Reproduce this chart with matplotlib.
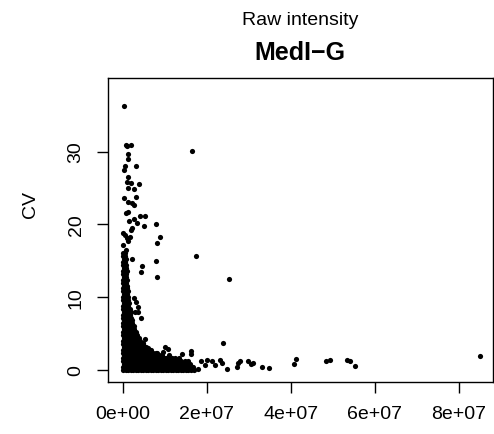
import numpy as np
import matplotlib
matplotlib.use('Agg')
import matplotlib.pyplot as plt

plt.rcParams['font.family'] = ['Liberation Sans', 'DejaVu Sans']

# scattered points (raw intensity in millions, CV)
outlier_int_m = [0.2, 0.7, 1.0, 1.9, 1.3, 1.3, 0.5, 0.2, 3.1, 1.3,
                 0.9, 1.8, 3.9, 1.3, 2.5, 16.4, 0.2, 1.3, 2.1, 2.6,
                 3.2, 0.6, 1.3, 4.1, 5.2, 1.4, 2.5, 3.4, 5.1, 7.8,
                 2.1, 1.9, 0.1, 0.5, 0.9, 1.3, 1.7, 8.8, 8.0, 0.1,
                 0.7, 2.1, 7.9, 4.6, 4.2, 8.0, 17.5, 25.2,
                 2.5, 3.1, 3.6, 2.9, 3.6, 4.4, 5.2, 4.8, 6.0, 10.0,
                 10.8, 8.0, 9.6, 14.0, 16.1, 16.3, 23.9,
                 18.5, 20.1, 21.1, 23.1, 23.5, 19.6, 21.9, 24.8, 17.8,
                 27.2, 27.5, 27.9, 29.8, 30.5, 30.9, 33.1, 34.8,
                 40.7, 41.3, 48.3, 49.3, 53.4, 54.2, 55.3, 85.0]
outlier_cv = [36.3, 30.9, 30.7, 30.9, 29.7, 29.0, 28.0, 27.5, 28.0, 26.5,
              25.8, 25.7, 25.6, 25.0, 24.9, 30.1, 23.6, 23.1, 22.9, 22.6,
              23.8, 21.6, 21.7, 21.2, 21.1, 20.5, 20.7, 20.2, 19.8, 20.1,
              19.5, 19.2, 18.8, 18.5, 18.1, 17.7, 18.2, 18.2, 17.5, 17.2,
              16.5, 15.2, 14.9, 14.3, 13.5, 12.8, 15.6, 12.5,
              9.9, 9.4, 8.6, 7.9, 7.9, 7.2, 4.2, 3.7, 3.0, 3.2,
              2.9, 2.3, 2.5, 2.2, 2.6, 2.2, 3.7,
              1.2, 1.4, 1.2, 1.4, 1.0, 0.7, 0.7, 0.1, 0.2,
              0.35, 0.96, 1.27, 1.19, 0.86, 0.96, 0.37, 0.32,
              0.86, 1.46, 1.19, 1.32, 1.37, 1.28, 0.59, 1.87]

# dense part near the origin: (CV, intensities in millions)
dense_rows = [
    (16.0, [0.1, 0.4]),
    (15.6, [0.0, 0.5]),
    (15.2, [0.2, 0.7]),
    (14.8, [0.1, 0.5]),
    (14.4, [0.0, 0.4, 0.8]),
    (14.0, [0.2, 0.6]),
    (13.6, [0.1, 0.5, 0.9]),
    (13.2, [0.0, 0.4, 0.8]),
    (12.8, [0.2, 0.6]),
    (12.4, [0.1, 0.5, 0.9]),
    (12.0, [0.0, 0.4, 0.8]),
    (11.6, [0.2, 0.6, 1.0]),
    (11.2, [0.1, 0.5, 0.9]),
    (10.8, [0.0, 0.4, 0.8, 1.2]),
    (10.4, [0.2, 0.6, 1.0]),
    (10.0, [0.1, 0.5, 0.9, 1.3]),
    (9.6, [0.0, 0.4, 0.8, 1.2]),
    (9.2, [0.2, 0.6, 1.0, 1.4]),
    (8.8, [0.1, 0.5, 0.9, 1.3]),
    (8.4, [0.0, 0.4, 0.8, 1.2, 1.6]),
    (8.0, [0.2, 0.6, 1.0, 1.4, 1.8]),
    (7.6, [0.1, 0.5, 0.9, 1.3, 1.7]),
    (7.2, [0.0, 0.5, 1.0, 1.5, 2.0]),
    (6.8, [0.2, 0.7, 1.2, 1.7, 2.2]),
    (6.4, [0.1, 0.6, 1.1, 1.6, 2.1]),
    (6.0, [0.0, 0.5, 1.0, 1.5, 2.0, 2.5]),
    (5.6, [0.2, 0.7, 1.2, 1.7, 2.2, 2.7]),
    (5.2, [0.1, 0.6, 1.1, 1.6, 2.1, 2.6, 3.0]),
    (4.8, [0.0, 0.5, 1.0, 1.5, 2.0, 2.5, 3.0, 3.4]),
    (4.4, [0.2, 0.7, 1.2, 1.7, 2.2, 2.7, 3.2, 3.7]),
    (4.0, [0.1, 0.6, 1.1, 1.6, 2.1, 2.6, 3.1, 3.6, 4.1]),
    (3.6, [0.0, 0.6, 1.2, 1.8, 2.4, 3.0, 3.6, 4.2, 4.7]),
    (3.2, [0.2, 0.8, 1.4, 2.0, 2.6, 3.2, 3.8, 4.4, 5.0, 5.5]),
    (2.8, [0.1, 0.7, 1.3, 1.9, 2.5, 3.1, 3.7, 4.3, 4.9, 5.5, 6.1, 6.6]),
    (2.4, [0.0, 0.6, 1.2, 1.8, 2.4, 3.0, 3.6, 4.2, 4.8, 5.4, 6.0, 6.6,
           7.2, 7.8]),
    (2.0, [0.2, 0.8, 1.4, 2.0, 2.6, 3.2, 3.8, 4.4, 5.0, 5.6, 6.2, 6.8,
           7.4, 8.0, 8.6, 9.3, 11.0]),
    (1.6, [0.1, 0.7, 1.3, 1.9, 2.5, 3.1, 3.7, 4.3, 4.9, 5.5, 6.1, 6.7,
           7.3, 7.9, 8.5, 9.1, 9.7, 10.3, 10.9, 11.6, 12.4, 13.3]),
    (1.2, [0.0, 0.6, 1.2, 1.8, 2.4, 3.0, 3.6, 4.2, 4.8, 5.4, 6.0, 6.6,
           7.2, 7.8, 8.4, 9.0, 9.6, 10.2, 10.8, 11.4, 12.0, 12.6, 13.2,
           13.9, 14.7, 15.6]),
    (0.8, [0.2, 0.8, 1.4, 2.0, 2.6, 3.2, 3.8, 4.4, 5.0, 5.6, 6.2, 6.8,
           7.4, 8.0, 8.6, 9.2, 9.8, 10.4, 11.0, 11.6, 12.2, 12.8, 13.4,
           14.0, 14.6, 15.2, 16.0]),
    (0.4, [0.1, 0.7, 1.3, 1.9, 2.5, 3.1, 3.7, 4.3, 4.9, 5.5, 6.1, 6.7,
           7.3, 7.9, 8.5, 9.1, 9.7, 10.3, 10.9, 11.5, 12.1, 12.7, 13.3,
           13.9, 14.5, 15.1, 15.8, 16.6]),
    (0.0, [0.0, 0.6, 1.2, 1.8, 2.4, 3.0, 3.6, 4.2, 4.8, 5.4, 6.0, 6.6,
           7.2, 7.8, 8.4, 9.0, 9.6, 10.2, 10.8, 11.4, 12.0, 12.6, 13.2,
           13.8, 14.4, 15.0, 15.6, 16.3, 17.0]),
]

x_ticks = [0, 2e7, 4e7, 6e7, 8e7]
x_tick_labels = ['0e+00', '2e+07', '4e+07', '6e+07', '8e+07']
y_ticks = [0, 10, 20, 30]
y_tick_labels = ['0', '10', '20', '30']

dense_int = []
dense_cv = []
for cv_val, xs in dense_rows:
    for xv in xs:
        dense_int.append(xv)
        dense_cv.append(cv_val)

intensity = np.array(outlier_int_m + dense_int) * 1e6
cv = np.array(outlier_cv + dense_cv)

fig = plt.figure(figsize=(4.94, 4.35), dpi=100)
ax = fig.add_axes([108 / 494, 52 / 435, 384.7 / 494, 304 / 435])
ax.scatter(intensity, cv, s=14, c='black', linewidths=0)

ax.set_xlim(-0.358e7, 8.81e7)
ax.set_ylim(-1.65, 40.1)
ax.set_xticks(x_ticks)
ax.set_xticklabels(x_tick_labels)
ax.set_yticks(y_ticks)
ax.set_yticklabels(y_tick_labels, rotation=90, va='center')
ax.tick_params(direction='out', length=7.9, width=1, labelsize=14, pad=9)
for sp in ax.spines.values():
    sp.set_linewidth(1)

fig.text(300 / 494, 1 - 25 / 435, 'Raw intensity', ha='center', va='baseline', fontsize=14)
fig.text(300 / 494, 1 - 60 / 435, 'MedI\u2212G', ha='center', va='baseline',
         fontsize=18, fontweight='bold')
fig.text(30 / 494, 231 / 435, 'CV', ha='center', va='center', rotation=90, fontsize=14)

fig.savefig('out.png', dpi=100)
